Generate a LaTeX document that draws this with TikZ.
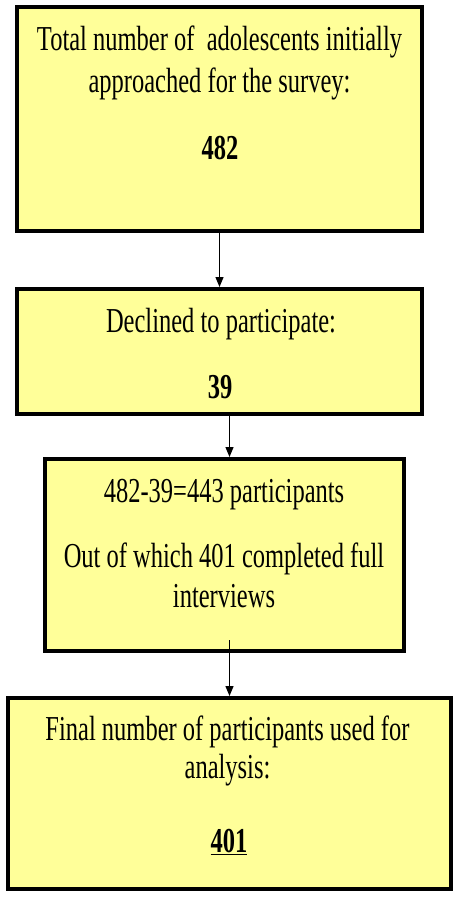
\documentclass[tikz,border=0pt]{standalone}
\usepackage{fontspec}
\newfontfamily\boxfont{Liberation Serif}[FakeStretch=0.7]
\usetikzlibrary{arrows.meta}
\definecolor{ink}{RGB}{0,0,0}
\definecolor{boxfill}{RGB}{255,255,153}
\tikzset{
    stagebox/.style={
        rectangle,
        draw=ink,
        line width=4pt,
        fill=boxfill,
        inner sep=0pt
    },
    boxtext/.style={
        anchor=base,
        inner sep=0pt,
        text=ink,
        font=\boxfont\fontsize{35}{41}\selectfont
    },
    boxnum/.style={
        boxtext,
        font=\boxfont\fontsize{35}{41}\selectfont\bfseries
    },
    flowarrow/.style={
        -{Triangle[length=10pt, width=8pt]},
        draw=ink,
        line width=1.2pt
    }
}

\begin{document}
\begin{tikzpicture}[x=1pt, y=-1pt]
\useasboundingbox (0,0) rectangle (459,900);

% Boxes
\node[stagebox, minimum width=405pt, minimum height=224pt] (b1) at (219.5, 119) {};
\node[stagebox, minimum width=405pt, minimum height=125pt] (b2) at (219.5, 351.5) {};
\node[stagebox, minimum width=359pt, minimum height=192pt] (b3) at (224.5, 555) {};
\node[stagebox, minimum width=443pt, minimum height=191pt] (b4) at (229.5, 793.5) {};

% Box texts
\node[boxtext] (t1a) at (219.5, 50) {Total number of~ adolescents initially};
\node[boxtext] (t1b) at (219.5, 92) {approached for the survey:};
\node[boxnum] (n1) at (220, 159) {482};

\node[boxtext] (t2a) at (221, 332) {Declined to participate:};
\node[boxnum] (n2) at (220, 398) {39};

\node[boxtext] (t3a) at (224, 502) {482-39=443 participants};
\node[boxtext] (t3b) at (224, 567) {Out of which 401 completed full};
\node[boxtext] (t3c) at (224, 607) {interviews};

\node[boxtext] (t4a) at (227.5, 740) {Final number of participants used for};
\node[boxtext] (t4b) at (227.5, 778) {analysis:};
\node[boxnum] (n4) at (229, 852) {\underline{401}};

% Arrows
\coordinate (s3) at (229.5, 640);
\draw[flowarrow] (b1.south) -- (b2.north);
\draw[flowarrow] (b2.south -| b4) -- (b3.north -| b4);
\draw[flowarrow] (s3) -- (b4.north);
\end{tikzpicture}
\end{document}
